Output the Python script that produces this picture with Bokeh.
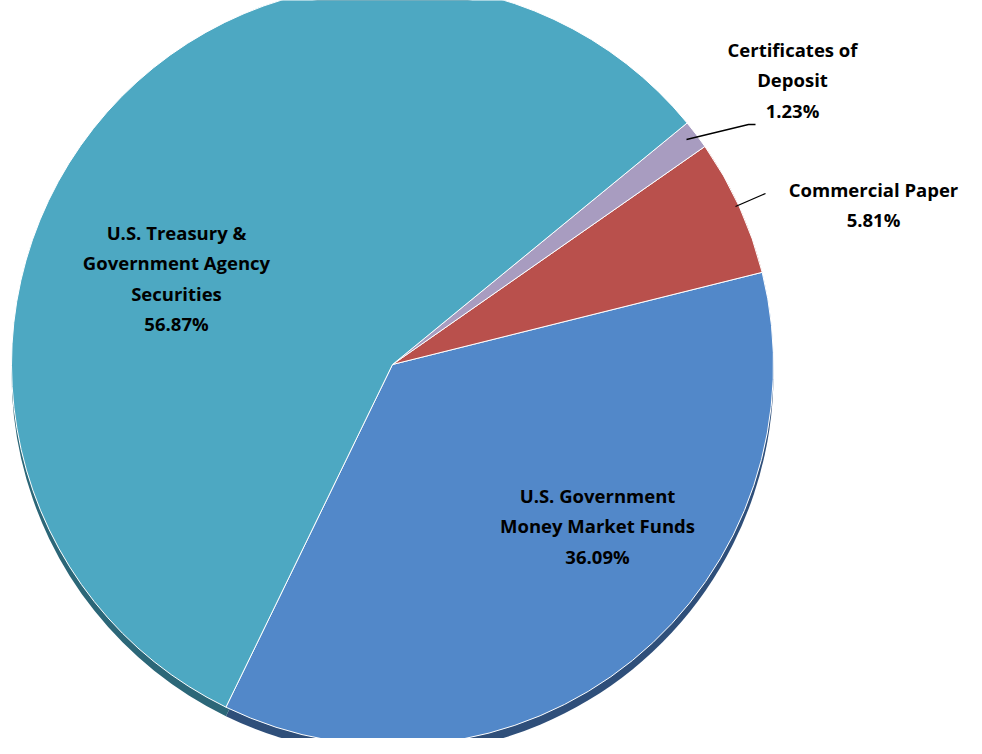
import numpy as np
from bokeh.plotting import figure
from bokeh.models import ColumnDataSource, Range1d
from bokeh.core.properties import value
from bokeh.embed import file_html
from bokeh.resources import INLINE

categories = ["U.S. Government\nMoney Market Funds", "Commercial Paper", "Certificates of\nDeposit", "U.S. Treasury &\nGovernment Agency\nSecurities"]
shares = [36.09, 5.81, 1.23, 56.87]
colors = ["#5288C9", "#B9504C", "#A89CC0", "#4DA8C2"]
dark = ["#2F4F7A", "#6E2F2D", "#5E5670", "#2C6778"]

W, H = 966, 738
CX, CY, R = 392, 364, 381  # pixel centre and radius within the plot

def px(x, y):
    return (x - CX) / R, (CY - y) / R

p = figure(width=W, height=H, output_backend="svg", toolbar_location=None,
           x_range=Range1d(-CX / R, (W - CX) / R), y_range=Range1d(-(H - CY) / R, CY / R),
           min_border=0)
p.axis.visible = False
p.grid.visible = False
p.outline_line_color = None

# wedge angles: money market ends at ~14 degrees, going clockwise
start0 = np.deg2rad(14.0)
ang = np.array(shares) / 100 * 2 * np.pi
starts, ends = [], []
cur = start0
for i, a in enumerate(ang):
    if i == 0:
        starts.append(cur - a); ends.append(cur)
    else:
        starts.append(cur); ends.append(cur + a); cur += a

src = ColumnDataSource(dict(s=starts, e=ends, c=colors, d=dark,
                            x=[0] * 4, y=[0] * 4, y2=[-9 / R] * 4))
# 3D depth rim
p.wedge(x="x", y="y2", radius=1.0, start_angle="s", end_angle="e",
        fill_color="d", line_color=None, source=src)
p.wedge(x="x", y="y", radius=1.0, start_angle="s", end_angle="e",
        fill_color="c", line_color="white", line_width=1, source=src)

# leader lines
lx1, ly1 = px(686, 139); lx2, ly2 = px(748, 124); lx3, ly3 = px(755, 124)
p.line([lx1, lx2, lx3], [ly1, ly2, ly3], color="black", line_width=1.3)
lx1, ly1 = px(735, 206); lx2, ly2 = px(765, 193)
p.line([lx1, lx2], [ly1, ly2], color="black", line_width=1.3)

labels = [c + "\n" + f"{v:.2f}%" for c, v in zip(categories, shares)]
pos = [px(597, 482), px(873, 176), px(792, 36), px(176, 219)]
lsrc = ColumnDataSource(dict(x=[q[0] for q in pos], y=[q[1] for q in pos], t=labels))
p.text(x="x", y="y", text="t", source=lsrc, text_align="center", text_baseline="top",
       text_font=value("Open Sans"), text_font_style="bold", text_font_size="18.5px",
       text_line_height=1.22, text_color="black")

open("out.html", "w").write(file_html(p, INLINE))
